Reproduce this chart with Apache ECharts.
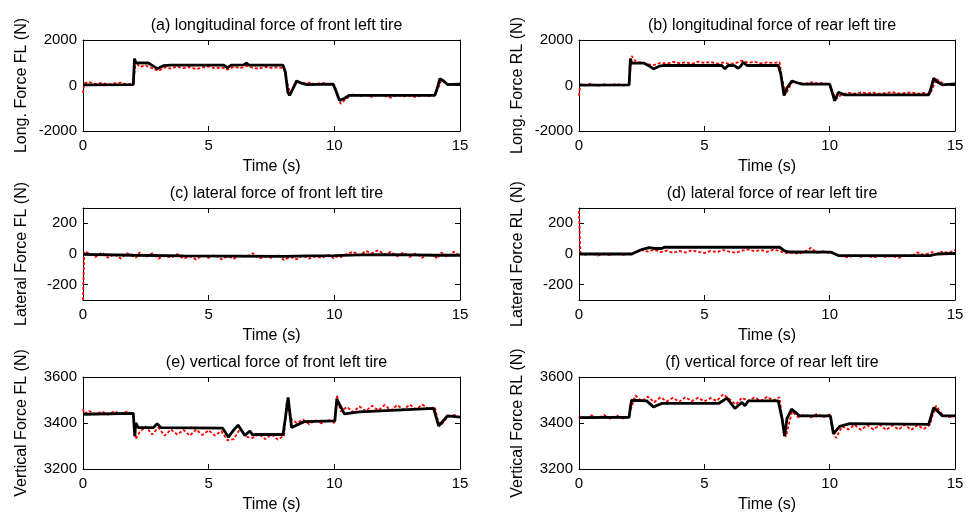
<!DOCTYPE html>
<html><head><meta charset="utf-8">
<script src="https://cdn.jsdelivr.net/npm/echarts@6/dist/echarts.min.js"></script>
<style>html,body{margin:0;padding:0;background:#fff}#c{width:976px;height:514px}</style>
</head><body><div id="c"></div>
<script>
// shared time base of the red (measured) traces, s
const tRed = [0,0.05,0.25,0.5,0.75,1,1.25,1.5,1.75,2,2.1,2.25,2.5,2.75,3,3.25,3.5,3.75,4,4.25,4.5,4.75,5,5.25,5.5,5.75,6,6.25,6.5,6.75,7,7.25,7.5,7.75,8,8.1,8.25,8.5,8.75,9,9.25,9.5,9.75,10,10.1,10.25,10.5,10.75,11,11.25,11.5,11.75,12,12.25,12.5,12.75,13,13.25,13.5,13.75,14,14.1,14.25,14.5,14.75,15];

const redA = [-330,100,150,60,120,40,90,130,50,80,1050,820,880,760,640,800,740,830,760,810,720,790,840,750,800,700,820,760,860,780,740,820,770,800,760,200,-350,150,90,130,60,120,80,30,-300,-800,-560,-380,-470,-420,-500,-400,-460,-530,-420,-480,-440,-510,-420,-470,-400,-200,200,80,20,90];
const redB = [-450,60,20,80,-20,50,10,70,0,40,1300,1080,1000,930,900,1000,960,1040,980,1020,950,1050,990,1030,960,1010,940,980,1100,1000,1040,970,1020,990,1030,300,-380,150,120,60,140,90,110,40,-250,-600,-380,-320,-360,-300,-350,-310,-370,-320,-290,-350,-330,-300,-360,-320,-380,-150,300,100,20,80];
const redC = [-300,15,5,-20,10,-25,0,-30,5,-15,-25,10,-20,5,-30,-10,-25,0,-30,-15,-35,-10,-25,-5,-35,-15,-30,-10,-20,5,-30,-15,-25,-5,-40,-30,-20,-35,-10,-30,-15,-25,-5,-30,-15,-20,0,15,-10,20,5,25,-5,15,-15,10,-20,5,-25,0,-15,-30,10,-20,15,-10];
const redD = [280,10,-5,5,-10,0,-8,3,-6,2,-4,10,25,15,28,12,22,8,20,10,24,14,6,20,12,26,15,8,22,30,18,26,14,28,20,12,5,10,2,14,40,8,18,5,12,-5,-15,-22,-8,-18,-12,-24,-10,-20,-14,-25,-8,-16,10,-5,5,12,0,15,8,25];
const redE = [3460,3440,3452,3438,3450,3436,3452,3438,3450,3440,3330,3360,3385,3350,3380,3345,3372,3350,3370,3345,3372,3348,3368,3345,3365,3325,3330,3375,3340,3335,3352,3330,3350,3328,3345,3490,3420,3400,3415,3395,3412,3398,3415,3400,3520,3450,3470,3448,3472,3452,3475,3455,3478,3455,3478,3458,3480,3460,3480,3462,3470,3420,3390,3425,3435,3425];
const redF = [3420,3432,3418,3434,3420,3435,3418,3433,3420,3430,3470,3520,3495,3515,3490,3512,3494,3510,3492,3512,3495,3510,3494,3508,3496,3525,3505,3480,3510,3495,3512,3496,3514,3498,3512,3420,3340,3450,3425,3438,3424,3440,3425,3438,3380,3335,3385,3372,3392,3370,3390,3372,3392,3370,3390,3372,3392,3370,3390,3374,3392,3430,3475,3435,3425,3432];

// black (estimated) traces: breakpoint times and values
const tBlkA = [0,2.0,2.05,2.1,2.6,2.8,2.95,3.2,3.5,5.6,5.75,5.9,6.4,6.5,6.6,7.95,8.05,8.15,8.22,8.35,8.5,8.7,8.9,9.95,10.05,10.2,10.35,10.6,14.0,14.1,14.2,14.35,14.5,15];
const blkA  = [30,40,1180,1000,990,850,740,870,900,900,780,900,910,980,900,900,600,-300,-430,-150,200,100,40,60,-200,-650,-600,-430,-430,-100,300,200,40,60];
const tBlkB = [0,2.0,2.05,2.1,2.6,2.8,2.97,3.2,3.4,5.7,5.82,5.95,6.2,6.35,6.45,6.55,6.7,7.95,8.05,8.18,8.3,8.5,8.7,8.9,10.0,10.1,10.2,10.35,10.6,13.95,14.05,14.15,14.3,14.5,15];
const blkB  = [20,30,1180,980,980,860,730,850,880,880,730,880,870,760,850,1020,880,880,500,-440,-100,200,120,60,60,-300,-670,-300,-410,-410,-100,320,150,30,70];
const tBlkC = [0,2,4,6,8,9,10,11,12,13,14,15];
const blkC  = [-2,-8,-12,-14,-16,-12,-10,-6,-4,-6,-8,-8];
const tBlkD = [0,2.1,2.5,2.8,3.0,3.3,3.4,8.0,8.2,8.4,10.05,10.35,14.0,14.3,15];
const blkD  = [0,0,29,42,36,36,44,44,20,13,12,-10,-10,0,4];
const tBlkE = [0,2.0,2.06,2.1,2.2,2.8,2.95,3.1,5.55,5.78,6.0,6.17,6.44,6.64,6.75,6.9,7.96,8.05,8.16,8.3,8.8,10.02,10.1,10.4,11.0,13.95,14.15,14.5,15];
const blkE  = [3438,3442,3343,3400,3380,3380,3397,3380,3378,3339,3370,3391,3346,3365,3348,3350,3350,3420,3511,3380,3406,3409,3504,3440,3448,3464,3387,3431,3426];
const tBlkF = [0,2.0,2.05,2.1,2.7,2.97,3.3,5.57,5.9,6.22,6.5,6.62,6.75,7.95,8.1,8.2,8.3,8.48,8.8,10.03,10.15,10.4,10.8,13.95,14.15,14.5,15];
const blkF  = [3423,3425,3470,3499,3496,3470,3485,3485,3508,3463,3490,3475,3496,3496,3420,3343,3420,3460,3431,3431,3353,3385,3397,3394,3467,3431,3431];

const titles = ['(a) longitudinal force of front left tire','(b) longitudinal force of rear left tire','(c) lateral force of front left tire','(d) lateral force of rear left tire','(e) vertical force of front left tire','(f) vertical force of rear left tire'];
const yNames = ['Long. Force FL (N)','Long. Force RL (N)','Lateral Force FL (N)','Lateral Force RL (N)','Vertical Force FL (N)','Vertical Force RL (N)'];
const xTicks = [0,5,10,15];
const yTicksLong = [-2000,0,2000];
const yTicksLat = [-200,0,200];
const yTicksVert = [3200,3400,3600];

const panels = [
  {tB:tBlkA, vB:blkA, vR:redA, min:-2000, max:2000, ticks:yTicksLong},
  {tB:tBlkB, vB:blkB, vR:redB, min:-2000, max:2000, ticks:yTicksLong},
  {tB:tBlkC, vB:blkC, vR:redC, min:-300, max:300, ticks:yTicksLat},
  {tB:tBlkD, vB:blkD, vR:redD, min:-300, max:300, ticks:yTicksLat},
  {tB:tBlkE, vB:blkE, vR:redE, min:3200, max:3600, ticks:yTicksVert},
  {tB:tBlkF, vB:blkF, vR:redF, min:3200, max:3600, ticks:yTicksVert}
];

const colL = {left:83, width:377}, colR = {left:579, width:376};
const rows = [{top:40, height:91},{top:208, height:92},{top:377, height:92}];
const FONT = "'Liberation Sans', Arial, sans-serif";
const zip = (a,b) => a.map((x,i)=>[x,b[i]]);
const plain = v => String(v);

const grid=[], xAxis=[], yAxis=[], series=[], title=[];
panels.forEach((p,i)=>{
  const col = i%2===0 ? colL : colR;
  const row = rows[Math.floor(i/2)];
  grid.push({left:col.left, top:row.top, width:col.width, height:row.height, containLabel:false});
  title.push({text:titles[i], left:col.left+col.width/2, top:row.top-27, textAlign:'center',
    textStyle:{fontFamily:FONT, fontSize:16, fontWeight:'normal', color:'#000'}});
  const axLine = {show:true, onZero:false, lineStyle:{color:'#000', width:1}};
  const tick = {show:true, inside:true, length:5, lineStyle:{color:'#000', width:1}};
  xAxis.push({type:'value', gridIndex:i, min:0, max:15, interval:5, position:'bottom',
    axisLine:axLine, axisTick:Object.assign({customValues:xTicks}, tick), splitLine:{show:false},
    axisLabel:{customValues:xTicks, formatter:plain, fontFamily:FONT, fontSize:15, color:'#000', margin:7},
    name:'Time (s)', nameLocation:'middle', nameGap:28,
    nameTextStyle:{fontFamily:FONT, fontSize:16, color:'#000'}});
  xAxis.push({type:'value', gridIndex:i, min:0, max:15, interval:5, position:'top',
    axisLine:axLine, axisTick:Object.assign({customValues:xTicks}, tick), splitLine:{show:false}, axisLabel:{show:false}});
  yAxis.push({type:'value', gridIndex:i, min:p.min, max:p.max, position:'left',
    axisLine:axLine, axisTick:Object.assign({customValues:p.ticks}, tick), splitLine:{show:false},
    axisLabel:{customValues:p.ticks, formatter:plain, fontFamily:FONT, fontSize:15, color:'#000', margin:6},
    name:yNames[i], nameLocation:'middle', nameGap:53,
    nameTextStyle:{fontFamily:FONT, fontSize:16, color:'#000'}});
  yAxis.push({type:'value', gridIndex:i, min:p.min, max:p.max, position:'right',
    axisLine:axLine, axisTick:Object.assign({customValues:p.ticks}, tick), splitLine:{show:false},
    axisLabel:{show:false}});
  series.push({type:'line', xAxisIndex:2*i, yAxisIndex:2*i, data:zip(tRed,p.vR), showSymbol:false,
    lineStyle:{color:'#ff0000', width:1.8, type:[3,2]}, z:2, silent:true});
  series.push({type:'line', xAxisIndex:2*i, yAxisIndex:2*i, data:zip(p.tB,p.vB), showSymbol:false,
    lineStyle:{color:'#000', width:2.8}, z:3, silent:true});
});

const chart = echarts.init(document.getElementById('c'), null, {renderer:'canvas'});
chart.setOption({animation:false, backgroundColor:'#fff', title, grid, xAxis, yAxis, series});
</script>
</body></html>
